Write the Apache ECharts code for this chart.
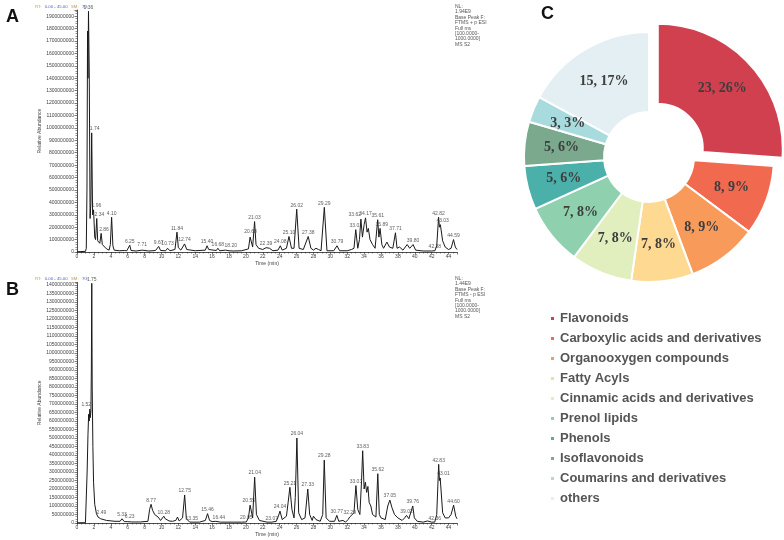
<!DOCTYPE html>
<html><head><meta charset="utf-8">
<script src="https://cdn.jsdelivr.net/npm/echarts/dist/echarts.min.js"></script>
<style>html,body{margin:0;padding:0;background:#fff}#c{width:784px;height:540px}</style>
</head><body><div id="c"></div>
<script>
// ---------- Panel A chromatogram (intensity in units of 1e8) ----------
const aTimes = [0,1.0,1.1,1.18,1.25,1.3,1.36,1.45,1.55,1.65,1.74,1.85,1.96,2.1,2.2,2.34,2.45,2.6,2.7,2.86,3.0,3.2,3.5,3.8,3.95,4.1,4.25,4.4,5.0,5.6,5.7,5.9,6.1,6.25,6.4,7.0,7.71,8.5,9.3,9.67,9.9,10.5,10.73,11.0,11.6,11.84,12.0,12.3,12.74,13.0,14.0,15.2,15.4,15.6,16.5,16.68,16.9,17.6,17.8,18.0,18.2,18.5,19.5,20.3,20.5,20.6,20.8,21.03,21.2,21.5,22.0,22.39,22.8,23.2,23.8,24.08,24.3,24.8,25.1,25.4,25.7,26.02,26.3,26.8,27.38,27.7,28.0,28.3,28.6,28.9,29.29,29.6,30.4,30.79,31.1,32.0,32.5,32.8,33.01,33.25,33.45,33.62,33.8,34.0,34.17,34.35,34.5,34.7,35.0,35.3,35.61,35.75,35.89,36.1,36.3,36.7,37.0,37.4,37.71,37.9,38.2,38.6,39.1,39.4,39.8,40.1,41.0,42.0,42.38,42.6,42.82,42.92,43.03,43.3,43.6,44.0,44.3,44.59,44.8,45.0];
const aValues = [0.02,0.05,0.3,5.0,17.8,14.0,19.4,14.5,2.7,4.0,9.6,3.0,3.4,1.2,1.0,2.7,0.9,0.8,0.7,1.5,0.6,0.5,0.25,0.15,0.6,2.8,0.5,0.15,0.1,0.12,0.18,0.1,0.15,0.55,0.12,0.08,0.15,0.08,0.12,0.45,0.12,0.1,0.3,0.1,0.2,1.6,0.35,0.15,0.65,0.2,0.1,0.15,0.5,0.2,0.12,0.3,0.1,0.15,0.3,0.1,0.18,0.08,0.1,0.25,1.2,1.35,0.4,2.45,0.6,0.3,0.2,0.35,0.3,0.1,0.15,0.5,0.15,0.3,1.25,0.3,0.3,3.45,0.3,0.2,1.25,0.3,0.15,0.3,0.2,0.1,3.6,0.1,0.1,0.5,0.1,0.1,0.2,0.3,1.8,0.3,1.0,2.65,1.2,2.2,2.75,1.6,1.9,1.0,0.6,0.3,2.6,1.2,1.9,0.6,0.3,0.8,0.4,0.3,1.55,0.3,0.4,0.15,0.6,0.3,0.6,0.15,0.08,0.08,0.1,0.5,2.8,2.0,2.2,0.9,0.4,0.2,0.3,1.0,0.4,0.2];
const aPeakLabels = ["1.36","1.74","1.96","2.34","2.86","4.10","6.25","7.71","9.67","10.73","11.84","12.74","15.40","16.68","18.20","20.68","21.03","22.39","24.08","25.10","26.02","27.38","29.29","30.79","33.01","33.62","34.17","35.61","35.89","37.71","39.80","42.38","42.82","43.03","44.59"];
const aPeakTimes  = [1.36,2.10,2.30,2.65,3.20,4.10,6.25,7.71,9.67,10.73,11.84,12.74,15.40,16.68,18.20,20.55,21.03,22.39,24.08,25.10,26.02,27.38,29.29,30.79,33.01,32.90,34.17,35.61,36.10,37.71,39.80,42.38,42.82,43.30,44.59];
const aPeakHeights= [19.4,9.6,3.4,2.7,1.5,2.8,0.55,0.3,0.45,0.35,1.6,0.65,0.5,0.3,0.18,1.35,2.45,0.35,0.5,1.25,3.45,1.25,3.6,0.5,1.8,2.65,2.75,2.6,1.9,1.55,0.6,0.1,2.8,2.2,1.0];

// ---------- Panel B chromatogram (intensity in units of 1e8) ----------
const bTimes = [0,1.0,1.1,1.2,1.3,1.38,1.45,1.52,1.58,1.65,1.7,1.75,1.8,1.88,1.96,2.1,2.3,2.49,2.8,3.5,4.5,5.1,5.33,5.6,6.0,6.23,6.5,7.5,8.4,8.6,8.77,8.95,9.2,9.6,9.9,10.1,10.28,10.45,10.6,10.9,11.3,11.7,11.9,12.1,12.5,12.75,12.95,13.35,14.5,15.2,15.46,15.7,16.0,16.44,17.0,18.5,19.5,20.05,20.3,20.5,20.65,20.8,21.04,21.25,21.6,22.5,23.07,23.6,23.85,24.04,24.3,24.8,25.0,25.21,25.45,25.7,25.85,26.04,26.25,26.6,27.0,27.33,27.55,27.85,28.0,28.3,28.8,29.1,29.28,29.5,29.9,30.5,30.77,31.0,31.5,31.8,32.1,32.29,32.5,32.8,33.03,33.25,33.5,33.7,33.83,34.0,34.15,34.3,34.45,34.6,34.8,35.0,35.2,35.4,35.62,35.8,36.0,36.2,36.5,36.8,37.05,37.3,37.6,38.0,38.5,38.8,39.02,39.3,39.5,39.76,39.95,40.3,41.0,41.5,42.0,42.36,42.6,42.83,42.92,43.01,43.3,43.6,44.0,44.3,44.6,44.85,45.0];
const bValues = [0.01,0.02,0.1,3.0,5.2,6.4,6.0,6.7,6.2,6.6,9.0,14.1,8.0,4.5,2.4,1.1,0.55,0.35,0.25,0.15,0.1,0.1,0.25,0.08,0.08,0.15,0.06,0.06,0.1,0.8,1.1,0.75,0.5,0.35,0.15,0.2,0.4,0.25,0.3,0.12,0.1,0.15,0.35,0.12,0.3,1.65,0.25,0.05,0.05,0.15,0.55,0.15,0.08,0.1,0.05,0.05,0.05,0.06,0.3,1.05,1.1,0.3,2.7,0.5,0.15,0.05,0.05,0.1,0.4,0.7,0.2,0.4,1.2,2.1,0.8,0.3,1.5,5.0,0.6,0.2,0.3,2.0,0.5,0.15,0.4,0.2,0.1,0.5,3.7,0.3,0.1,0.1,0.45,0.1,0.15,0.05,0.2,0.35,0.3,0.6,2.2,0.8,0.5,2.5,4.25,2.0,2.4,1.8,2.15,1.2,1.0,0.5,0.6,0.35,2.9,0.5,0.3,0.4,0.2,1.0,1.35,0.9,0.5,0.3,0.15,0.3,0.45,0.25,0.3,1.0,0.3,0.1,0.05,0.12,0.05,0.05,0.5,3.45,2.5,2.65,0.6,0.3,0.3,0.5,1.05,0.4,0.25];
const bPeakLabels = ["1.75","1.52","2.49","5.33","6.23","8.77","10.28","12.75","13.35","15.46","16.44","20.05","20.55","21.04","23.07","24.04","25.21","26.04","27.33","29.28","30.77","32.29","33.03","33.83","35.62","37.05","39.02","39.76","42.36","42.83","43.01","44.60"];
const bPeakTimes  = [1.75,1.10,2.90,5.33,6.23,8.77,10.28,12.75,13.60,15.46,16.80,20.05,20.35,21.04,23.07,24.04,25.21,26.04,27.33,29.28,30.77,32.29,33.03,33.83,35.62,37.05,39.02,39.76,42.36,42.83,43.41,44.60];
const bPeakHeights= [14.1,6.7,0.35,0.25,0.15,1.1,0.4,1.65,0.05,0.55,0.1,0.06,1.1,2.7,0.05,0.7,2.1,5.0,2.0,3.7,0.45,0.35,2.2,4.25,2.9,1.35,0.45,1.0,0.05,3.45,2.65,1.05];

// ---------- Panel C donut ----------
const classNames = ["Flavonoids","Carboxylic acids and derivatives","Organooxygen compounds","Fatty Acyls","Cinnamic acids and derivatives","Prenol lipids","Phenols","Isoflavonoids","Coumarins and derivatives","others"];
const classCounts = [23,8,8,7,7,7,5,5,3,15];
const classColors = ["#d0404f","#f16a50","#f89b5a","#fdd992","#e1eebd","#8fd0ae","#4cb0aa","#7aa98d","#a8dbdd","#e3eff2"];

const xTickStep = 2;      // minutes
const aTickStep = 1;      // x 1e8
const bTickStep = 0.5;    // x 1e8
const SCALE = 1e8;

const total = classCounts.reduce((s, v) => s + v, 0);

function pairs(t, v){ return t.map((x, i) => [x, v[i]]); }
function labelData(t, h, l){ return t.map((x, i) => ({name: l[i], value: [x, h[i]]})); }

const chart = echarts.init(document.getElementById('c'), null, {renderer: 'canvas'});

const axisFont = {fontSize: 5, color: '#444', fontFamily: 'Liberation Sans'};
function xAxisCfg(idx){
  return {
    gridIndex: idx, type: 'value', min: 0, max: 45, interval: xTickStep,
    name: 'Time (min)', nameLocation: 'middle', nameGap: 9,
    nameTextStyle: {fontSize: 5, color: '#444', fontFamily: 'Liberation Sans'},
    axisLine: {lineStyle: {color: '#222', width: 0.8}},
    axisTick: {length: 2.5, lineStyle: {color: '#222', width: 0.6}},
    minorTick: {show: true, splitNumber: 4, length: 1.5, lineStyle: {color: '#222', width: 0.5}},
    splitLine: {show: false},
    axisLabel: Object.assign({margin: 2, formatter: v => (Math.abs(v/xTickStep - Math.round(v/xTickStep)) < 1e-6 && v < 45) ? String(v) : ''}, axisFont)
  };
}
function yAxisCfg(idx, max, step, minorSplit){
  return {
    gridIndex: idx, type: 'value', min: 0, max: max, interval: step,
    name: 'Relative Abundance', nameLocation: 'middle', nameGap: 31, nameRotate: 90,
    nameTextStyle: {fontSize: 5, color: '#444', fontFamily: 'Liberation Sans'},
    axisLine: {show: true, lineStyle: {color: '#222', width: 0.8}},
    axisTick: {show: true, length: 2.5, lineStyle: {color: '#222', width: 0.6}},
    minorTick: {show: true, splitNumber: minorSplit, length: 1.5, lineStyle: {color: '#222', width: 0.5}},
    splitLine: {show: false},
    axisLabel: Object.assign({margin: 3, formatter: v => (Math.abs(v/step - Math.round(v/step)) < 1e-6) ? String(Math.round(v*SCALE)) : ''}, axisFont)
  };
}
function traceSeries(idx, data){
  return {type: 'line', xAxisIndex: idx, yAxisIndex: idx, data: data, symbol: 'none', silent: true,
    lineStyle: {color: '#1a1a1a', width: 1}, animation: false, z: 3};
}
function peakLabelSeries(idx, data){
  return {type: 'scatter', xAxisIndex: idx, yAxisIndex: idx, data: data, symbolSize: 1,
    itemStyle: {color: 'rgba(0,0,0,0)'}, silent: true, animation: false, z: 4,
    label: {show: true, position: 'top', distance: 1, formatter: '{b}', fontSize: 5, color: '#333', fontFamily: 'Liberation Sans'},
    labelLayout: {hideOverlap: false}};
}

const nlStyle = {fontSize: 5, fill: '#555', fontFamily: 'Liberation Sans', lineHeight: 5.4};
const hdrRich = {o: {fill: '#c89650', fontSize: 4.3, fontFamily: 'Liberation Sans'}, b: {fill: '#4a5fc8', fontSize: 4.3, fontFamily: 'Liberation Sans'}};

const option = {
  backgroundColor: '#fff',
  animation: false,
  grid: [
    {left: 77, width: 380, top: 10, height: 242},
    {left: 77, width: 380, top: 282.5, height: 240.5}
  ],
  xAxis: [xAxisCfg(0), xAxisCfg(1)],
  yAxis: [yAxisCfg(0, 19.5, aTickStep, 5), yAxisCfg(1, 14.15, bTickStep, 4)],
  legend: {
    orient: 'vertical', left: 544, top: 307, icon: 'rect', itemWidth: 5, itemHeight: 5, itemGap: 7,
    data: classNames,
    textStyle: {fontSize: 13, fontWeight: 'bold', color: '#555', fontFamily: 'Liberation Sans'},
    selectedMode: false
  },
  series: [
    traceSeries(0, pairs(aTimes, aValues)),
    peakLabelSeries(0, labelData(aPeakTimes, aPeakHeights, aPeakLabels)),
    traceSeries(1, pairs(bTimes, bValues)),
    peakLabelSeries(1, labelData(bPeakTimes, bPeakHeights, bPeakLabels)),
    {
      type: 'pie', center: [649, 157], radius: [45, 125], startAngle: 90, clockwise: true,
      selectedMode: 'single', selectedOffset: 12, avoidLabelOverlap: false, silent: true,
      itemStyle: {borderColor: '#fff', borderWidth: 2},
      label: {show: true, position: 'inside', fontSize: 14, fontWeight: 'bold', color: '#3d3d3d',
        fontFamily: 'Liberation Serif',
        formatter: p => p.value + ', ' + Math.round(p.value / total * 100) + '%'},
      labelLine: {show: false},
      data: classNames.map((n, i) => ({name: n, value: classCounts[i], selected: i === 0, itemStyle: {color: classColors[i]}}))
    }
  ],
  color: classColors,
  graphic: [
    {type: 'text', left: 6, top: 8, style: {text: 'A', fontSize: 18, fontWeight: 'bold', fill: '#111', fontFamily: 'Liberation Sans'}},
    {type: 'text', left: 6, top: 281, style: {text: 'B', fontSize: 18, fontWeight: 'bold', fill: '#111', fontFamily: 'Liberation Sans'}},
    {type: 'text', left: 541, top: 5, style: {text: 'C', fontSize: 18, fontWeight: 'bold', fill: '#111', fontFamily: 'Liberation Sans'}},
    {type: 'text', left: 35, top: 1, style: {text: '{o|RT:} {b|0.00 - 45.00} {o|SM:} {b|7G}', rich: hdrRich}},
    {type: 'text', left: 35, top: 273, style: {text: '{o|RT:} {b|0.00 - 45.00} {o|SM:} {b|7G}', rich: hdrRich}},
    {type: 'text', left: 455, top: 4, style: Object.assign({text: 'NL:\n1.94E9\nBase Peak F:\nFTMS + p ESI\nFull ms\n[100.0000-\n1000.0000]\nMS S2'}, nlStyle)},
    {type: 'text', left: 455, top: 276, style: Object.assign({text: 'NL:\n1.44E9\nBase Peak F:\nFTMS - p ESI\nFull ms\n[100.0000-\n1000.0000]\nMS S2'}, nlStyle)}
  ]
};
chart.setOption(option);
</script>
</body></html>
